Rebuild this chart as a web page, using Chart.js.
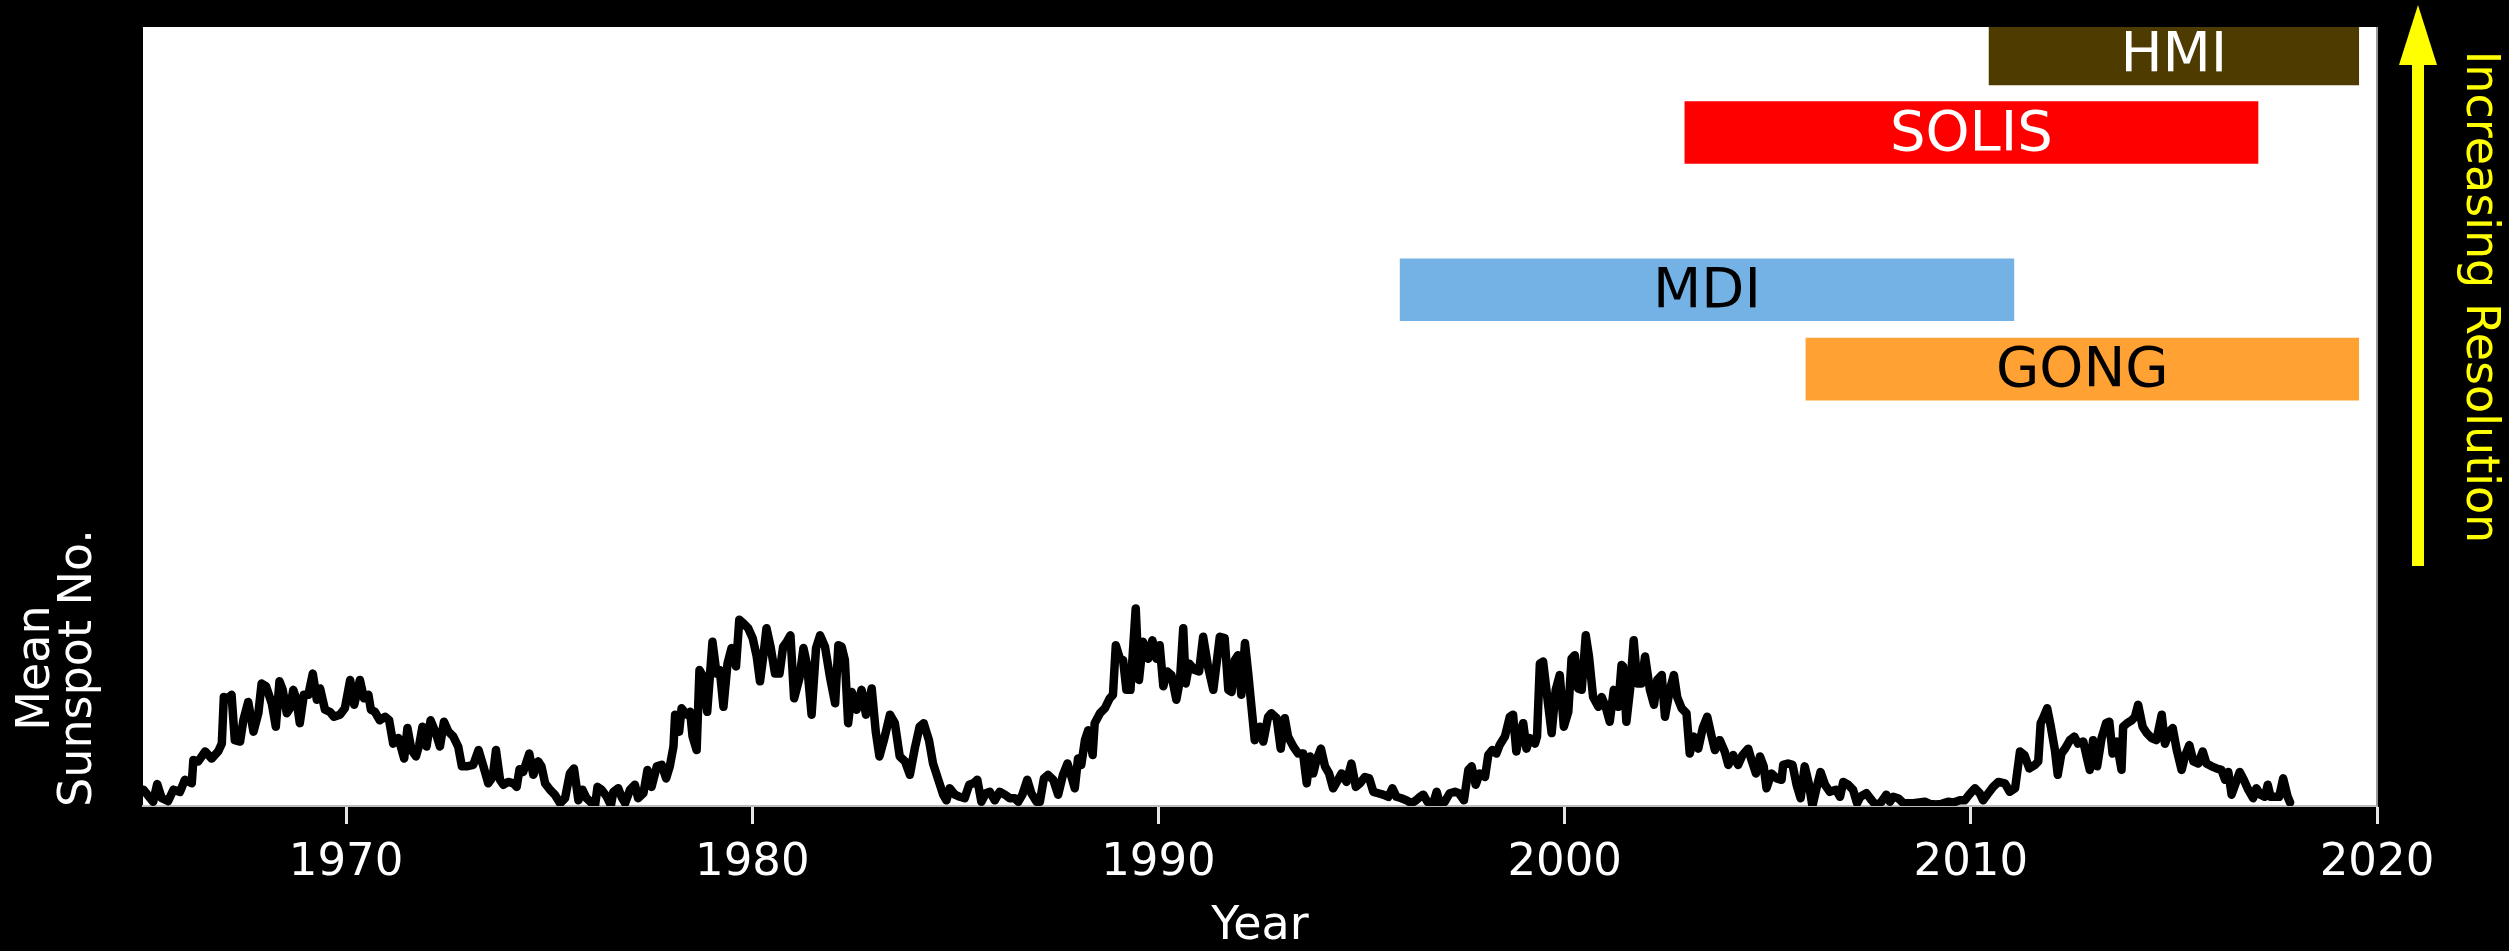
<!DOCTYPE html>
<html>
<head>
<meta charset="utf-8">
<script src="https://cdn.jsdelivr.net/npm/chart.js@4.4.1/dist/chart.umd.min.js"></script>
<style>
html,body{margin:0;padding:0;background:#000;overflow:hidden}
canvas{display:block}
</style>
</head>
<body>
<canvas id="c" width="2509" height="951"></canvas>
<script>
// ---- Monthly-ish mean sunspot number ----
const years = [
1965.01,1965.25,1965.35,1965.46,1965.62,1965.75,1965.91,1966.03,1966.20,1966.24,1966.36,1966.53,1966.69,1966.85,1966.94,1966.99,
1967.10,1967.18,1967.26,1967.39,1967.47,1967.59,1967.72,1967.84,1967.92,1968.03,1968.17,1968.27,1968.36,1968.44,1968.54,1968.62,
1968.70,1968.78,1968.86,1968.96,1969.07,1969.18,1969.28,1969.36,1969.48,1969.60,1969.70,1969.85,1969.97,1970.10,1970.20,1970.34,
1970.44,1970.55,1970.61,1970.71,1970.83,1970.96,1971.06,1971.16,1971.29,1971.43,1971.51,1971.61,1971.72,1971.80,1971.88,1971.98,
1972.08,1972.21,1972.31,1972.41,1972.52,1972.64,1972.76,1972.85,1972.97,1973.13,1973.26,1973.38,1973.50,1973.61,1973.69,1973.79,
1973.87,1973.99,1974.12,1974.20,1974.27,1974.36,1974.51,1974.61,1974.73,1974.81,1974.90,1975.02,1975.14,1975.27,1975.39,1975.51,
1975.61,1975.72,1975.82,1975.92,1976.05,1976.13,1976.19,1976.29,1976.42,1976.52,1976.58,1976.70,1976.78,1976.87,1976.99,1977.11,
1977.19,1977.32,1977.42,1977.52,1977.65,1977.77,1977.88,1977.97,1978.06,1978.10,1978.20,1978.26,1978.38,1978.47,1978.53,1978.63,
1978.70,1978.79,1978.89,1979.02,1979.12,1979.20,1979.29,1979.39,1979.49,1979.60,1979.68,1979.78,1979.90,1980.01,1980.11,1980.19,
1980.27,1980.35,1980.45,1980.56,1980.67,1980.76,1980.85,1980.94,1981.03,1981.16,1981.26,1981.35,1981.46,1981.57,1981.67,1981.79,
1981.91,1982.04,1982.12,1982.20,1982.28,1982.36,1982.45,1982.57,1982.69,1982.80,1982.94,1983.04,1983.13,1983.24,1983.39,1983.51,
1983.63,1983.76,1983.88,1984.00,1984.12,1984.22,1984.35,1984.45,1984.58,1984.70,1984.78,1984.86,1984.99,1985.11,1985.23,1985.34,
1985.44,1985.54,1985.64,1985.75,1985.85,1985.97,1986.09,1986.22,1986.34,1986.46,1986.55,1986.65,1986.77,1986.87,1987.00,1987.08,
1987.18,1987.28,1987.41,1987.53,1987.65,1987.76,1987.86,1987.94,1988.02,1988.10,1988.19,1988.27,1988.38,1988.43,1988.56,1988.68,
1988.80,1988.88,1988.95,1989.05,1989.13,1989.21,1989.31,1989.44,1989.52,1989.62,1989.75,1989.85,1989.95,1990.03,1990.12,1990.21,
1990.32,1990.44,1990.53,1990.61,1990.67,1990.76,1990.89,1991.00,1991.10,1991.22,1991.35,1991.43,1991.51,1991.63,1991.72,1991.80,
1991.88,1991.96,1992.04,1992.13,1992.21,1992.29,1992.37,1992.50,1992.58,1992.70,1992.78,1992.91,1993.01,1993.11,1993.19,1993.32,
1993.44,1993.56,1993.65,1993.73,1993.81,1993.89,1994.00,1994.10,1994.20,1994.30,1994.42,1994.51,1994.63,1994.75,1994.86,1994.96,
1995.08,1995.19,1995.29,1995.41,1995.53,1995.66,1995.76,1995.86,1995.98,1996.11,1996.23,1996.34,1996.44,1996.52,1996.62,1996.75,
1996.85,1996.94,1997.05,1997.17,1997.30,1997.40,1997.52,1997.63,1997.71,1997.81,1997.91,1998.04,1998.12,1998.22,1998.32,1998.40,
1998.53,1998.65,1998.73,1998.81,1998.90,1998.98,1999.06,1999.14,1999.27,1999.32,1999.39,1999.47,1999.59,1999.68,1999.78,1999.88,
1999.98,2000.09,2000.17,2000.25,2000.33,2000.42,2000.52,2000.60,2000.70,2000.83,2000.91,2001.01,2001.11,2001.21,2001.32,2001.40,
2001.44,2001.52,2001.61,2001.70,2001.79,2001.89,2001.98,2002.10,2002.20,2002.28,2002.39,2002.47,2002.59,2002.69,2002.77,2002.88,
2003.00,2003.08,2003.18,2003.29,2003.40,2003.51,2003.62,2003.70,2003.82,2003.94,2004.03,2004.15,2004.27,2004.38,2004.52,2004.60,
2004.71,2004.81,2004.90,2004.97,2005.09,2005.22,2005.34,2005.38,2005.50,2005.61,2005.71,2005.81,2005.91,2006.01,2006.10,2006.20,
2006.30,2006.41,2006.53,2006.68,2006.78,2006.86,2006.98,2007.10,2007.20,2007.28,2007.43,2007.56,2007.68,2007.80,2007.92,2008.01,
2008.09,2008.21,2008.34,2008.46,2008.58,2008.73,2008.87,2008.99,2009.14,2009.28,2009.44,2009.57,2009.73,2009.85,2009.96,2010.10,
2010.22,2010.30,2010.43,2010.55,2010.68,2010.84,2010.96,2011.09,2011.21,2011.32,2011.44,2011.58,2011.66,2011.72,2011.78,2011.88,
2011.97,2012.07,2012.14,2012.23,2012.32,2012.44,2012.55,2012.64,2012.77,2012.85,2012.93,2013.01,2013.11,2013.22,2013.33,2013.41,
2013.49,2013.59,2013.71,2013.75,2013.85,2013.96,2014.04,2014.12,2014.23,2014.33,2014.45,2014.57,2014.70,2014.78,2014.89,2014.97,
2015.07,2015.19,2015.27,2015.38,2015.48,2015.60,2015.71,2015.80,2015.93,2016.05,2016.17,2016.26,2016.34,2016.42,2016.52,2016.62,
2016.72,2016.83,2016.95,2017.03,2017.13,2017.24,2017.31,2017.38,2017.49,2017.59,2017.69,2017.80,2017.86
];
const sunspotNumber = [
23,6,31,11,7,23,20,37,32,65,63,77,67,77,88,154,
152,157,93,91,121,147,105,131,173,169,145,112,176,164,131,138,
164,150,117,157,157,187,150,166,136,133,126,129,138,178,143,178,
152,157,136,133,121,126,121,88,96,67,110,79,70,86,112,84,
121,103,84,119,105,98,84,56,56,58,79,56,32,41,79,37,
30,34,32,27,52,48,74,44,63,56,32,23,16,4,11,46,
53,8,23,11,4,1,27,23,13,1,20,25,13,4,23,30,
11,18,51,27,56,58,39,56,84,129,105,138,129,133,98,79,
192,183,133,232,187,192,140,201,223,197,263,258,251,237,211,176,
211,251,225,187,187,225,232,241,152,180,223,199,129,223,241,225,
183,145,227,225,206,117,161,136,164,129,166,105,70,93,129,117,
70,63,44,81,112,117,93,60,37,16,8,25,16,13,11,30,
32,37,6,18,20,8,20,16,11,11,6,16,37,18,6,6,
39,44,37,16,44,60,41,25,67,58,93,107,72,117,131,138,
152,157,227,208,206,164,164,279,178,232,208,234,208,227,169,190,
185,150,178,251,173,201,192,190,239,197,164,201,239,237,164,161,
206,213,157,230,187,140,93,112,91,126,131,124,81,124,98,84,
74,74,32,70,46,65,81,56,46,25,37,46,34,60,27,32,
41,39,20,18,16,13,25,13,11,8,4,8,13,16,6,1,
20,1,6,18,20,18,8,51,56,30,46,41,72,79,74,86,
98,126,129,77,103,117,81,96,88,98,201,204,145,103,164,185,
112,133,208,213,166,164,241,211,154,140,154,140,119,164,140,199,
197,119,164,234,173,173,211,164,143,178,185,126,164,185,154,138,
131,74,98,81,110,126,98,79,93,77,58,72,58,72,81,65,
46,70,56,25,46,39,37,58,60,58,30,11,56,32,0,25,
48,30,20,23,13,34,30,23,4,13,18,8,0,6,16,6,
13,11,4,4,4,5,6,3,2,3,6,5,8,8,16,25,
18,8,18,27,34,32,20,25,77,72,53,58,63,117,124,138,
112,79,44,74,81,93,98,88,91,70,51,93,56,96,117,119,
74,91,51,112,117,121,126,143,112,103,96,93,129,88,105,110,
79,51,70,86,63,60,77,60,56,53,51,37,48,16,32,48,
37,23,11,25,16,13,30,13,13,13,39,13,5
];

// ---- Observing instruments (floating bars) ----
const instruments     = ['HMI', 'SOLIS', 'MDI', 'GONG'];
const instrumentStart = [2010.45, 2002.96, 1995.95, 2005.94];
const instrumentEnd   = [2019.55, 2017.07, 2011.06, 2019.55];
const instrumentLevel = [1062, 951, 729, 617];

// ---- Axis ----
const xTickValues = [1970, 1980, 1990, 2000, 2010, 2020];
const xRange = [1965, 2020];
const yRange = [0, 1100];

// ---- Styles ----
const barColors  = ['#4e3b00', '#ff0000', '#74b2e6', '#ffa133'];
const textColors = ['#ffffff', '#ffffff', '#000000', '#000000'];
const FONT = '"DejaVu Sans", "Liberation Sans", sans-serif';

const decorations = {
  id: 'decorations',
  beforeDraw(chart) {
    const {ctx, chartArea: a} = chart;
    ctx.save();
    ctx.fillStyle = '#000';
    ctx.fillRect(0, 0, chart.width, chart.height);
    ctx.fillStyle = '#fff';
    ctx.fillRect(a.left, a.top, a.right - a.left, a.bottom - a.top);
    ctx.restore();
  },
  afterDatasetsDraw(chart) {
    const {ctx} = chart;
    const meta = chart.getDatasetMeta(1);
    ctx.save();
    ctx.font = '56px ' + FONT;
    ctx.textAlign = 'center';
    ctx.textBaseline = 'alphabetic';
    meta.data.forEach((el, i) => {
      const cx = (el.x + el.base) / 2;
      ctx.fillStyle = textColors[i];
      ctx.fillText(instruments[i], cx, el.y + 17);
    });
    ctx.restore();
  },
  afterDraw(chart) {
    const {ctx, chartArea: a} = chart;
    ctx.save();
    // right spine
    ctx.strokeStyle = '#9a9a9a';
    ctx.lineWidth = 2;
    ctx.beginPath();
    ctx.moveTo(a.right, a.top);
    ctx.lineTo(a.right, a.bottom);
    ctx.stroke();

    // y label (two lines, rotated)
    ctx.fillStyle = '#fff';
    ctx.font = '46px ' + FONT;
    ctx.textAlign = 'center';
    ctx.textBaseline = 'alphabetic';
    const yc = 668;
    [['Mean', 49], ['Sunspot No.', 91]].forEach(([t, bx]) => {
      ctx.save();
      ctx.translate(bx, yc);
      ctx.rotate(-Math.PI / 2);
      ctx.fillText(t, 0, 0);
      ctx.restore();
    });

    // yellow arrow
    const ax = a.right + 41;
    ctx.fillStyle = '#ffff00';
    ctx.fillRect(ax - 6, 64, 12, 566 - 64);
    ctx.beginPath();
    ctx.moveTo(ax, 5);
    ctx.lineTo(ax - 19, 65);
    ctx.lineTo(ax + 19, 65);
    ctx.closePath();
    ctx.fill();

    // yellow rotated text
    ctx.save();
    ctx.translate(a.right + 90, 297);
    ctx.rotate(Math.PI / 2);
    ctx.font = '46px ' + FONT;
    ctx.fillText('Increasing Resolution', 0, 0);
    ctx.restore();
    ctx.restore();
  }
};

new Chart(document.getElementById('c'), {
  type: 'line',
  data: {
    datasets: [
      {
        type: 'line',
        label: 'Mean Sunspot No.',
        data: years.map((yr, i) => ({x: yr, y: sunspotNumber[i]})),
        borderColor: '#000',
        borderWidth: 8.5,
        pointRadius: 0,
        tension: 0,
        borderJoinStyle: 'round',
        borderCapStyle: 'round',
        clip: 0,
        xAxisID: 'x',
        yAxisID: 'y'
      },
      {
        type: 'bar',
        label: 'Instruments',
        indexAxis: 'y',
        data: instruments.map((n, i) => ({y: instrumentLevel[i], x: [instrumentStart[i], instrumentEnd[i]]})),
        backgroundColor: barColors,
        borderWidth: 0,
        barThickness: 62,
        clip: 0,
        xAxisID: 'x',
        yAxisID: 'y'
      }
    ]
  },
  options: {
    responsive: false,
    animation: false,
    devicePixelRatio: 1,
    layout: {padding: {left: 143, right: 132, top: 27, bottom: 0}},
    plugins: {legend: {display: false}, tooltip: {enabled: false}},
    scales: {
      x: {
        type: 'linear',
        min: xRange[0],
        max: xRange[1],
        offset: false,
        afterBuildTicks: s => { s.ticks = xTickValues.map(v => ({value: v})); },
        afterFit: s => { s.height = 145; },
        ticks: {
          color: '#fff',
          font: {family: FONT, size: 45},
          padding: 12,
          maxRotation: 0,
          autoSkip: false,
          callback: v => String(v)
        },
        grid: {display: true, offset: false, drawOnChartArea: false, drawTicks: true, tickLength: 18, tickWidth: 3, tickColor: '#e6e6e6'},
        border: {display: true, color: '#bdbdbd', width: 2},
        title: {display: true, text: 'Year', color: '#fff', font: {family: FONT, size: 46}, padding: {top: 0, bottom: -4}}
      },
      y: {
        type: 'linear',
        display: false,
        offset: false,
        grid: {offset: false},
        min: yRange[0],
        max: yRange[1]
      }
    }
  },
  plugins: [decorations]
});
</script>
</body>
</html>
